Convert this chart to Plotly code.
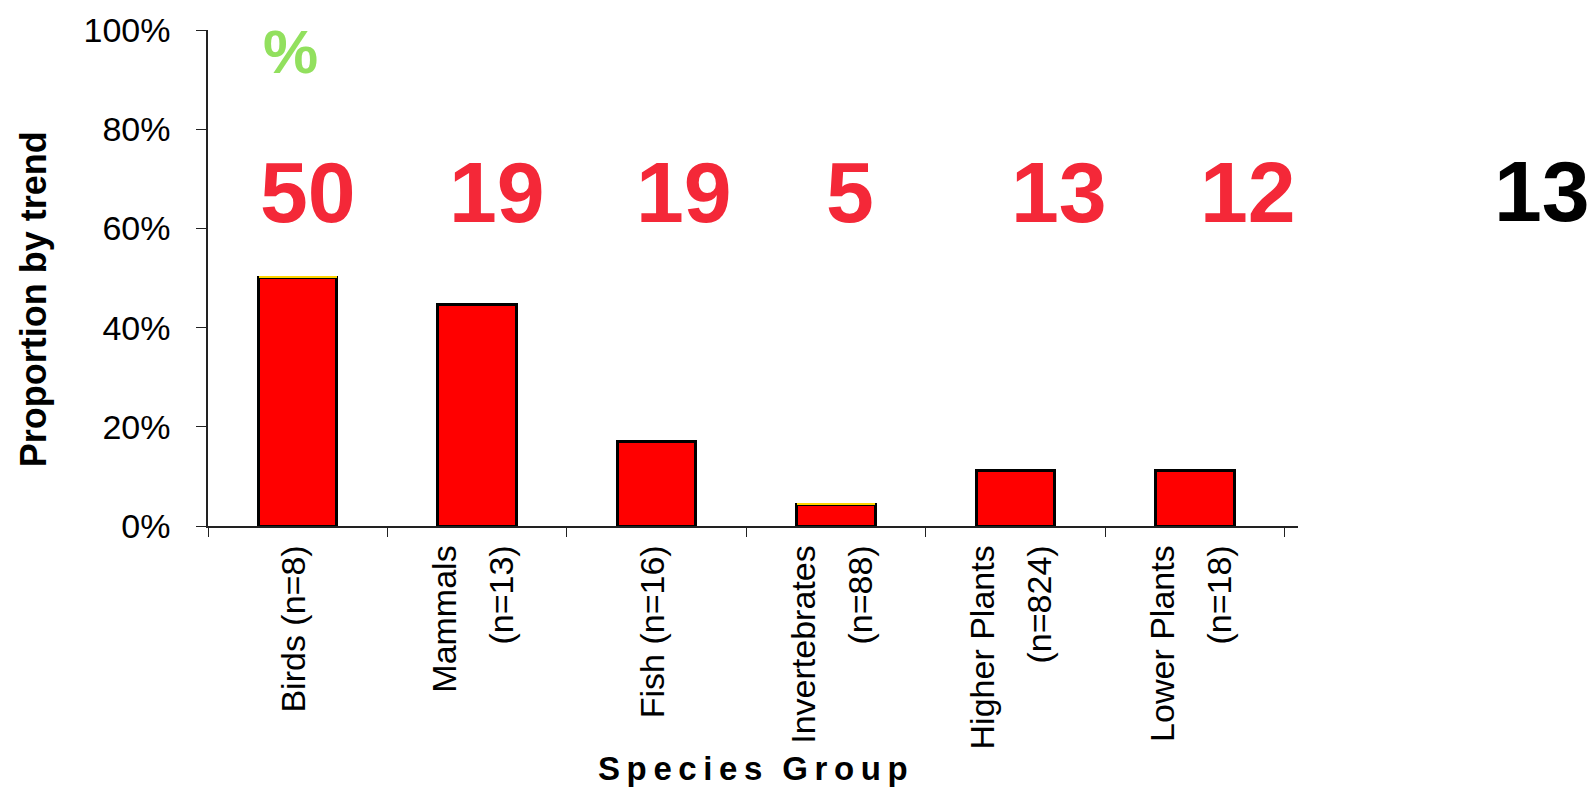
import plotly.graph_objects as go

# ---- data ----
categories = ["Birds", "Mammals", "Fish", "Invertebrates", "Higher Plants", "Lower Plants"]
sample_sizes = [8, 13, 16, 88, 824, 18]
two_line = [False, True, False, True, True, True]
red_values = [50.2, 44.6, 17.1, 4.4, 11.1, 11.1]      # % of species (main trend)
yellow_values = [0.3, 0.0, 0.0, 0.3, 0.0, 0.0]       # thin top segment
top_counts = [50, 19, 19, 5, 13, 12]
extra_count = 13
y_ticks = [0, 20, 40, 60, 80, 100]

FONT = "Liberation Sans, Arial, sans-serif"
THIN = "\u2009"

def tick_label(name, n, split):
    sp = "<span style='font-size:34px'>{}</span>"
    if split:
        return sp.format(name) + "<br>" + sp.format(f"(n={n})")
    return sp.format(f"{name} (n={n})")

tick_text = [tick_label(c, n, s) for c, n, s in zip(categories, sample_sizes, two_line)]

fig = go.Figure()
fig.add_bar(x=categories, y=red_values,
            marker=dict(color="#FF0000", line=dict(color="black", width=3)),
            showlegend=False, hoverinfo="skip")
fig.add_bar(x=categories, y=yellow_values,
            marker=dict(color="#FFD400", line=dict(width=0)),
            showlegend=False, hoverinfo="skip")

# count labels above bars
label_shift = [10, 20, 27, 14, 43, 53]
annotations = []
for c, v, dx in zip(categories, top_counts, label_shift):
    annotations.append(dict(x=c, y=67.3, xref="x", yref="y", xshift=dx,
                            text=str(v), showarrow=False, xanchor="center", yanchor="middle",
                            font=dict(family=FONT, size=86, color="#F42838", weight="bold")))
annotations.append(dict(x=1.2236, y=67.6, xref="paper", yref="y",
                        text=str(extra_count), showarrow=False, xanchor="center", yanchor="middle",
                        font=dict(family=FONT, size=86, color="black", weight="bold")))
annotations.append(dict(x="Birds", y=0.957, xref="x", yref="paper", xshift=-7,
                        text="%", showarrow=False, xanchor="center", yanchor="middle",
                        font=dict(family=FONT, size=62, color="#92E05E", weight="bold")))
# axis titles
annotations.append(dict(x=-0.1602, y=0.458, xref="paper", yref="paper",
                        text="Proportion by trend", textangle=-90, showarrow=False,
                        xanchor="center", yanchor="middle",
                        font=dict(family=FONT, size=36, color="black", weight="bold")))
annotations.append(dict(x=0.5, y=-0.488, xref="paper", yref="paper",
                        text=THIN.join("Species") + THIN * 3 + THIN.join("Group"), showarrow=False,
                        xanchor="center", yanchor="middle",
                        font=dict(family=FONT, size=33, color="black", weight="bold")))

# the page adds an 8px body margin, so the figure is 8px smaller and offsets reduced
fig.update_layout(
    width=1587, height=786,
    margin=dict(l=200, r=297, t=22, b=268, autoexpand=False),
    paper_bgcolor="white", plot_bgcolor="white",
    barmode="stack", bargap=0.563,
    font=dict(family=FONT, color="black"),
    annotations=annotations,
    xaxis=dict(tickvals=categories, ticktext=tick_text, tickangle=-90,
               tickfont=dict(family=FONT, size=44, color="black"),
               tickson="boundaries", ticks="outside", ticklen=9, tickcolor="#222",
               ticklabelshift=-7,
               showline=True, linecolor="#222", linewidth=1.5, showgrid=False,
               automargin=False),
    yaxis=dict(range=[0, 100], tickvals=y_ticks, ticktext=[f"{t}%" for t in y_ticks],
               tickfont=dict(family=FONT, size=34, color="black"),
               ticks="outside", ticklen=10, tickcolor="#222",
               showline=True, linecolor="#222", linewidth=1.5, showgrid=False,
               zeroline=False, ticklabelstandoff=19, automargin=False),
)

fig.write_html("out.html")
